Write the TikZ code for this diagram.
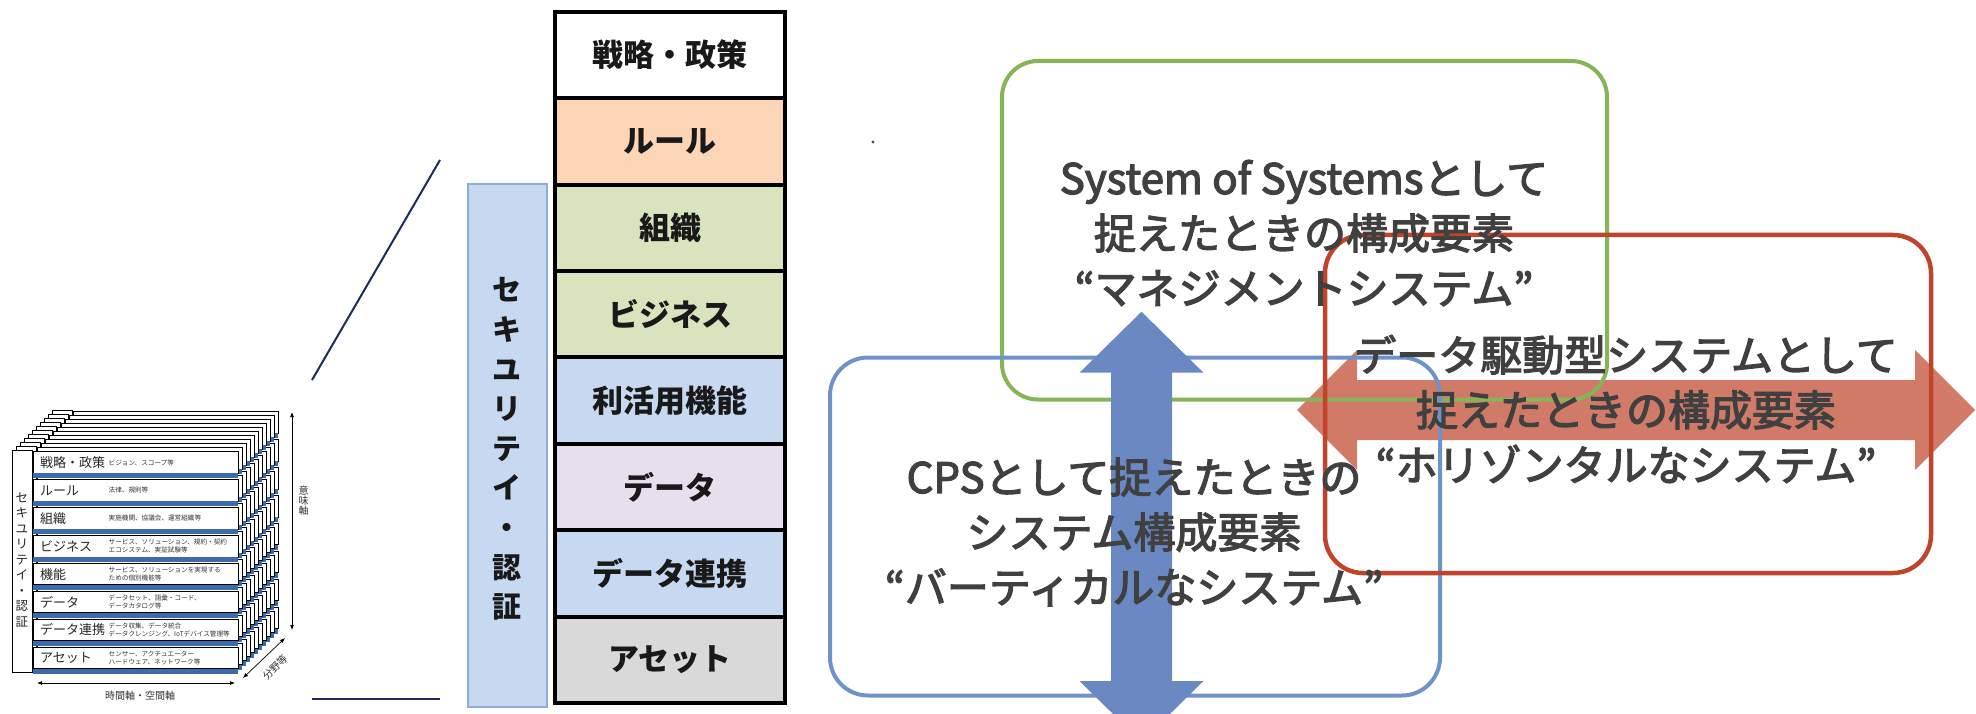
\documentclass[tikz,border=0pt]{standalone}
\usepackage{fontspec}
\setmainfont{Noto Sans CJK JP}
\newfontfamily\viewfont{Noto Sans CJK JP}[FakeBold=3]
\usetikzlibrary{arrows.meta}

\definecolor{inkgray}{HTML}{404040}
\definecolor{navyline}{HTML}{1F2A5C}
\definecolor{rulefill}{HTML}{FBD5B5}
\definecolor{orgfill}{HTML}{D7E4BD}
\definecolor{funcfill}{HTML}{C6D9F1}
\definecolor{datafill}{HTML}{E5E0EC}
\definecolor{assetfill}{HTML}{D9D9D9}
\definecolor{secfill}{HTML}{C6D9F1}
\definecolor{secedge}{HTML}{8FAADC}
\definecolor{bandblue}{HTML}{3B6AAE}
\definecolor{sosgreen}{HTML}{85B556}
\definecolor{cpsblue}{HTML}{6F92CC}
\definecolor{cpsarrow}{HTML}{6A88C2}
\definecolor{hozred}{HTML}{C1442A}
\definecolor{hozarrow}{HTML}{D07A67}

% one sheet of the small layered model (security column + eight rows)
\newcommand{\minisheet}{%
  \draw[fill=white, line width=0.8pt] (12,450) rectangle (32,672);
  \foreach \i in {0,...,7}{
    \draw[fill=white, line width=0.8pt] (33,{451.7+27.9*\i}) rectangle (238,{473.2+27.9*\i});
    \fill[bandblue] (33,{473.2+27.9*\i}) rectangle (238,{478.2+27.9*\i});
  }%
}

\begin{document}
\begin{tikzpicture}[x=1pt, y=-1pt,
  minilabel/.style={anchor=west, inner sep=0pt, font=\fontsize{13}{14}\selectfont, text=black!85},
  minidesc/.style={anchor=west, inner sep=0pt, align=left, font=\fontsize{6.6}{8}\selectfont, text=black!80},
  axislabel/.style={inner sep=0pt, align=center, font=\fontsize{10}{10}\selectfont, text=black!80},
  axisarrow/.style={line width=0.7pt, {Latex[length=5pt,width=4pt]}-{Latex[length=5pt,width=4pt]}},
  zoomline/.style={navyline, line width=2pt},
  stackrow/.style={draw=black, line width=4pt, minimum width=230pt, minimum height=86.45pt,
    inner sep=0pt, font=\bfseries\fontsize{31}{31}\selectfont, text=black!90},
  rtext/.style={inner sep=0pt, align=center, text=inkgray, font=\viewfont\fontsize{42}{55}\selectfont},
  roundbox/.style={line width=4pt}
]
\useasboundingbox (0,0) rectangle (1976,714);
\begin{scope}
\clip (0,0) rectangle (1976,714);

% ---------- small layered model ----------
\foreach \k in {10,...,1}{
  \begin{scope}[shift={(4*\k,-4*\k)}]
    \minisheet
  \end{scope}
}
\minisheet
\node[inner sep=0pt, align=center, text=black!85, font=\fontsize{12.5}{15.5}\selectfont] (miniSec) at (22,560)
  {セ\\キ\\ユ\\リ\\テ\\イ\\・\\認\\証};
\foreach \i/\lab/\desc in {
  0/{戦略・政策}/{ビジョン、スコープ等},
  1/{ルール}/{法律、規則等},
  2/{組織}/{実施機関、協議会、運営組織等},
  3/{ビジネス}/{サービス、ソリューション、規約・契約\\エコシステム、実証試験等},
  4/{機能}/{サービス、ソリューションを実現する\\ための個別機能等},
  5/{データ}/{データセット、語彙・コード、\\データカタログ等},
  6/{データ連携}/{データ収集、データ統合\\データクレンジング、IoTデバイス管理等},
  7/{アセット}/{センサー、アクチュエーター\\ハードウェア、ネットワーク等}}{
  \node[minilabel] (ml\i) at (40,{462.5+27.9*\i}) {\lab};
  \node[minidesc] (md\i) at (108.5,{462.5+27.9*\i}) {\desc};
}

% axes of the small model
\coordinate (vaxTop) at (292,412);
\coordinate (vaxBot) at (292,630);
\draw[axisarrow] (vaxTop) -- (vaxBot);
\node[axislabel, font=\fontsize{10}{9.8}\selectfont] (vaxLab) at (303.5,501) {意\\味\\軸};
\coordinate (haxL) at (37,683);
\coordinate (haxR) at (235,683);
\draw[axisarrow] (haxL) -- (haxR);
\node[axislabel] (haxLab) at (140,695.5) {時間軸・空間軸};
\coordinate (daxA) at (243,678);
\coordinate (daxB) at (285,638);
\draw[axisarrow] (daxA) -- (daxB);
\node[axislabel, rotate=45] (daxLab) at (275,667) {分野等};

% lines leading to the enlarged stack
\coordinate (zA) at (440,160);
\coordinate (zB) at (312,380);
\coordinate (zC) at (312,699);
\coordinate (zD) at (440,699);
\draw[zoomline] (zA) -- (zB);
\draw[zoomline] (zC) -- (zD);

% ---------- enlarged stack ----------
\node[draw=secedge, fill=secfill, line width=2pt, minimum width=79pt, minimum height=523pt] (secbar) at (507.5,445.5) {};
\node[inner sep=0pt, align=center, text=black!90, font=\bfseries\fontsize{29}{39.6}\selectfont] (sectext) at (507,449)
  {セ\\キ\\ユ\\リ\\テ\\イ\\・\\認\\証};

\node[stackrow, fill=white]     (r0) at (670, 54.9)  {戦略・政策};
\node[stackrow, fill=rulefill]  (r1) at (670,141.4)  {ルール};
\node[stackrow, fill=orgfill]   (r2) at (670,227.8)  {組織};
\node[stackrow, fill=orgfill]   (r3) at (670,314.3)  {ビジネス};
\node[stackrow, fill=funcfill]  (r4) at (670,400.7)  {利活用機能};
\node[stackrow, fill=datafill]  (r5) at (670,487.2)  {データ};
\node[stackrow, fill=funcfill]  (r6) at (670,573.6)  {データ連携};
\node[stackrow, fill=assetfill] (r7) at (670,660.1)  {アセット};

\fill[black!70] (873,142) circle (1.6);

% ---------- three views ----------
% horizontal double arrow (under the frames)
\fill[hozarrow] (1297,410) -- (1357,350) -- (1357,380) -- (1915,380) -- (1915,350)
  -- (1975,410) -- (1915,470) -- (1915,440) -- (1357,440) -- (1357,470) -- cycle;

\draw[roundbox, sosgreen, rounded corners=36pt] (1002,61) rectangle (1607,399.5);
\draw[roundbox, cpsblue, rounded corners=38pt] (830,357.5) rectangle (1440,695.5);
\draw[roundbox, hozred, line width=4.5pt, rounded corners=38pt] (1325,235) rectangle (1931,573);

% vertical double arrow
\fill[cpsarrow] (1141.5,311.7) -- (1203.5,372.7) -- (1172,372.7) -- (1172,681) -- (1203.5,681)
  -- (1141.5,742) -- (1079.5,681) -- (1111,681) -- (1111,372.7) -- (1079.5,372.7) -- cycle;

\node[rtext] (sosText) at (1304,233) {System of Systemsとして\\捉えたときの構成要素\\“マネジメントシステム”};
\node[rtext] (cpsText) at (1134,532) {CPSとして捉えたときの\\システム構成要素\\“バーティカルなシステム”};
\node[rtext] (hozText) at (1626,409) {データ駆動型システムとして\\捉えたときの構成要素\\“ホリゾンタルなシステム”};
\end{scope}
\end{tikzpicture}
\end{document}
